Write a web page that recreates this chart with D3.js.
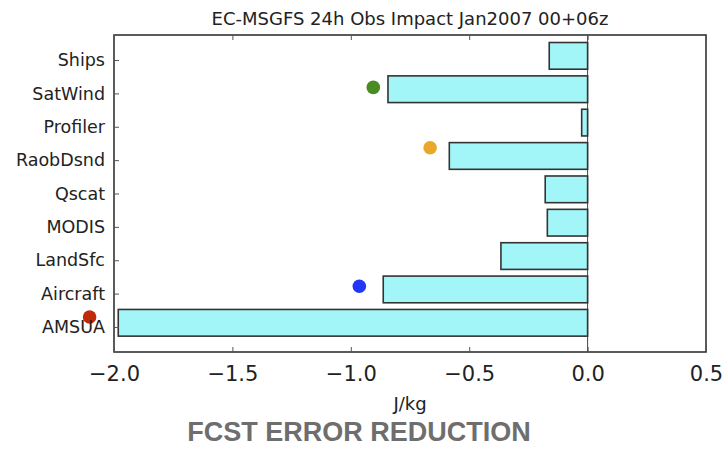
<!DOCTYPE html>
<html>
<head>
<meta charset="utf-8">
<script src="https://cdn.jsdelivr.net/npm/d3@7/dist/d3.min.js"></script>
<style>
  html, body { margin: 0; padding: 0; background: #fff; }
  svg { display: block; }
</style>
</head>
<body>
<svg id="chart" width="727" height="449"></svg>
<script>
// Observation types, listed bottom to top (index 0 sits lowest)
const categories = ["AMSUA", "Aircraft", "LandSfc", "MODIS", "Qscat", "RaobDsnd", "Profiler", "SatWind", "Ships"];
// 24h forecast error reduction per observation type (J/kg)
const impactValues = [-1.982, -0.863, -0.366, -0.170, -0.179, -0.584, -0.025, -0.843, -0.162];
// Comparison markers: value (J/kg) and vertical position in category units
const markerNames  = ["AMSUA", "Aircraft", "RaobDsnd", "SatWind"];
const markerValues = [-2.103, -0.964, -0.665, -0.905];
const markerYPos   = [0.30, 1.22, 5.37, 7.18];
const markerColors = ["#c02a08", "#2236f5", "#e9a82a", "#4a8c22"];
const xTicks = [-2.0, -1.5, -1.0, -0.5, 0.0, 0.5];

const titleText = "EC-MSGFS 24h Obs Impact Jan2007 00+06z";
const xLabel = "J/kg";
const caption = "FCST ERROR REDUCTION";

const svg = d3.select("#chart");
const plot = { left: 114, right: 706, top: 35, bottom: 352 };

const x = d3.scaleLinear().domain([-2.0, 0.5]).range([plot.left, plot.right]);
const y = d3.scaleLinear().domain([-0.75, 8.75]).range([plot.bottom, plot.top]);

const barHeight = 0.8;   // in category units
const barShift = 0.125;  // bars sit slightly above their tick

const fontMain = "DejaVu Sans, Verdana, sans-serif";

// zero reference line
svg.append("line")
  .attr("x1", x(0)).attr("x2", x(0))
  .attr("y1", plot.top).attr("y2", plot.bottom)
  .attr("stroke", "#444").attr("stroke-width", 1);

// bars
svg.append("g")
  .selectAll("rect")
  .data(impactValues)
  .join("rect")
  .attr("x", d => x(Math.min(0, d)))
  .attr("width", d => Math.abs(x(d) - x(0)))
  .attr("y", (d, i) => y(i + barShift + barHeight / 2))
  .attr("height", (d, i) => y(i + barShift - barHeight / 2) - y(i + barShift + barHeight / 2))
  .attr("fill", "#a3f6f8")
  .attr("stroke", "#333")
  .attr("stroke-width", 1.6);

// comparison markers (may fall outside the frame on the left)
svg.append("g")
  .selectAll("circle")
  .data(markerValues)
  .join("circle")
  .attr("cx", d => x(d))
  .attr("cy", (d, i) => y(markerYPos[i]))
  .attr("r", 6.8)
  .attr("fill", (d, i) => markerColors[i]);

// frame
svg.append("rect")
  .attr("x", plot.left).attr("y", plot.top)
  .attr("width", plot.right - plot.left).attr("height", plot.bottom - plot.top)
  .attr("fill", "none").attr("stroke", "#333").attr("stroke-width", 1.6);

// x axis ticks (inward, top and bottom)
const tickLen = 5;
const xBottom = d3.axisBottom(x).tickValues(xTicks).tickSizeInner(-tickLen).tickSizeOuter(0)
  .tickPadding(14).tickFormat(d3.format(".1f"));
const gxb = svg.append("g").attr("transform", `translate(0,${plot.bottom})`).call(xBottom);
gxb.select(".domain").remove();
gxb.selectAll(".tick line").attr("stroke", "#555");
gxb.selectAll(".tick text")
  .attr("font-family", fontMain)
  .attr("font-size", 21).attr("fill", "#222");

const xTop = d3.axisTop(x).tickValues(xTicks).tickSizeInner(-tickLen).tickSizeOuter(0).tickFormat("");
const gxt = svg.append("g").attr("transform", `translate(0,${plot.top})`).call(xTop);
gxt.select(".domain").remove();
gxt.selectAll(".tick line").attr("stroke", "#555");

// y axis: category ticks on the left, inward
const yAxis = d3.axisLeft(y).tickValues(d3.range(categories.length))
  .tickSizeInner(-tickLen).tickSizeOuter(0).tickPadding(9)
  .tickFormat(i => categories[i]);
const gy = svg.append("g").attr("transform", `translate(${plot.left},0)`).call(yAxis);
gy.select(".domain").remove();
gy.selectAll(".tick line").attr("stroke", "#555");
gy.selectAll(".tick text")
  .attr("font-family", fontMain)
  .attr("font-size", 17.5).attr("fill", "#222");

// title
svg.append("text")
  .attr("x", (plot.left + plot.right) / 2).attr("y", 25)
  .attr("text-anchor", "middle")
  .attr("font-family", fontMain)
  .attr("font-size", 18).attr("fill", "#222")
  .text(titleText);

// x axis label
svg.append("text")
  .attr("x", (plot.left + plot.right) / 2).attr("y", 410)
  .attr("text-anchor", "middle")
  .attr("font-family", fontMain)
  .attr("font-size", 18).attr("fill", "#222")
  .text(xLabel);

// caption
svg.append("text")
  .attr("x", 359).attr("y", 441)
  .attr("text-anchor", "middle")
  .attr("font-family", "Liberation Sans, Arial, sans-serif")
  .attr("font-weight", "bold")
  .attr("font-size", 27).attr("fill", "#6e6e6e")
  .text(caption);
</script>
</body>
</html>
